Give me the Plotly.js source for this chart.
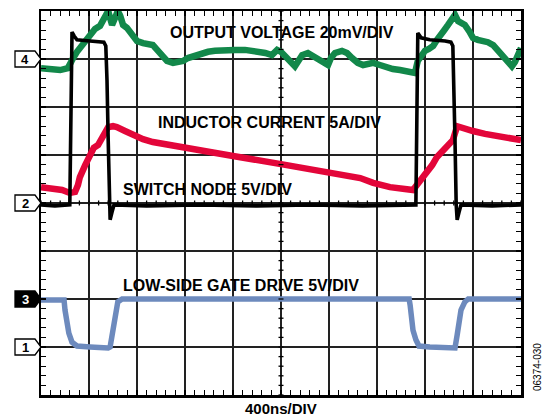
<!DOCTYPE html>
<html>
<head>
<meta charset="utf-8">
<script src="https://cdn.plot.ly/plotly-3.0.1.min.js"></script>
<style>html,body{margin:0;padding:0;background:#fff;}#chart{width:545px;height:419px;}</style>
</head>
<body>
<div id="chart"></div>
<script>
// Time axis in divisions (400 ns/DIV), vertical in screen divisions (0 = bottom, 8 = top)
const outTime = [0,0.19,0.40,0.56,0.625,0.67,0.75,0.81,0.90,0.96,1.02,1.125,1.23,1.29,1.33,1.40,1.44,1.48,1.54,1.60,1.65,1.71,1.79,1.85,1.94,2.0,2.125,2.23,2.33,2.42,2.48,2.56,2.625,2.75,2.85,2.96,3.06,3.17,3.31,3.48,3.625,3.83,4.04,4.25,4.46,4.67,4.81,4.92,5.0,5.08,5.19,5.29,5.375,5.44,5.56,5.67,5.77,5.875,5.98,6.04,6.125,6.27,6.375,6.48,6.60,6.71,6.81,6.92,7.06,7.21,7.33,7.48,7.65,7.79,7.85,7.92,8.0,8.08,8.17,8.25,8.31,8.40,8.48,8.56,8.625,8.69,8.75,8.83,8.92,9.0,9.10,9.21,9.31,9.42,9.52,9.625,9.73,9.81,9.875,9.96,10];
const outVolt = [6.81,6.79,6.77,6.81,6.90,7.02,7.15,7.23,7.35,7.44,7.54,7.625,7.69,7.81,7.92,8.0,7.85,7.71,7.85,8.0,7.9,7.71,7.65,7.58,7.46,7.375,7.33,7.31,7.29,7.19,7.125,7.02,6.96,6.92,6.94,6.96,7.02,7.06,7.10,7.15,7.17,7.19,7.19,7.19,7.17,7.125,7.08,7.19,7.15,7.06,6.98,6.85,6.98,7.08,7.125,7.06,6.98,6.92,6.875,7.02,7.125,7.17,7.125,7.02,6.92,6.875,6.90,6.92,6.875,6.81,6.79,6.77,6.75,6.71,6.96,7.06,7.17,7.21,7.27,7.40,7.50,7.60,7.71,7.85,7.92,7.79,7.77,7.71,7.58,7.44,7.40,7.375,7.35,7.29,7.17,7.02,6.92,6.85,6.94,7.17,7.23];

const indTime = [0,0.25,0.44,0.60,0.71,0.77,0.81,0.92,1.02,1.10,1.19,1.29,1.40,1.50,1.58,1.75,1.92,2.125,2.33,2.54,2.75,3.0,3.25,4.0,5.0,6.0,6.23,6.65,6.92,7.27,7.58,7.75,7.83,7.94,8.04,8.15,8.25,8.35,8.46,8.58,8.67,8.77,9.0,9.25,9.56,9.83,10];
const indCurr = [4.33,4.31,4.27,4.21,4.23,4.375,4.54,4.79,5.04,5.15,5.21,5.40,5.58,5.60,5.58,5.50,5.42,5.33,5.27,5.23,5.21,5.15,5.10,4.98,4.81,4.625,4.58,4.52,4.42,4.33,4.29,4.27,4.375,4.52,4.625,4.79,4.96,5.08,5.17,5.31,5.60,5.58,5.50,5.44,5.375,5.33,5.31];

const swTime = [0,0.29,0.60,0.625,0.646,0.69,0.75,1.02,1.31,1.35,1.375,1.40,1.42,1.44,1.48,1.52,2.2,3.31,4.5,5.6,6.7,7.81,7.83,7.85,7.92,8.10,8.42,8.54,8.58,8.60,8.625,8.65,8.67,8.71,8.75,9.4,10];
const swVolt = [3.96,3.94,3.96,5.73,7.56,7.48,7.40,7.375,7.35,7.27,6.56,5.31,4.06,3.65,3.81,3.96,3.94,3.96,3.94,3.96,3.94,3.96,5.73,7.54,7.44,7.40,7.375,7.35,7.27,6.56,5.31,3.96,3.65,3.81,3.96,3.94,3.96];

const gateTime = [0,0.48,0.50,0.54,0.58,0.646,0.75,1.02,1.23,1.40,1.44,1.48,1.52,1.56,1.60,1.69,3.31,7.67,7.69,7.71,7.75,7.81,7.875,8.10,8.625,8.67,8.71,8.75,8.83,8.90,10];
const gateVolt = [1.98,1.98,1.77,1.52,1.29,1.10,1.02,1.0,0.98,0.98,1.0,1.25,1.56,1.81,1.94,2.0,2.0,2.0,1.875,1.60,1.35,1.15,1.02,1.0,0.98,1.25,1.52,1.77,1.94,2.0,2.0];

const channelNames = ['4','2','3','1'];
const channelLevels = [7,4,2,1];

const traceLabels = ['OUTPUT VOLTAGE 20mV/DIV','INDUCTOR CURRENT 5A/DIV','SWITCH NODE 5V/DIV','LOW-SIDE GATE DRIVE 5V/DIV'];
const timebaseLabel = '400ns/DIV';
const figureId = '06374-030';

// geometry helpers (pixel -> paper)
const L = 41, T = 11, W = 480, H = 384;
const px = x => (x - L) / W;
const py = y => ((T + H) - y) / H;

const traces = [
  {x: gateTime, y: gateVolt, mode:'lines', line:{color:'#6d8abd', width:5.5}, hoverinfo:'skip'},
  {x: outTime, y: outVolt, mode:'lines', line:{color:'#12884a', width:6.5}, hoverinfo:'skip'},
  {x: indTime, y: indCurr, mode:'lines', line:{color:'#e3063a', width:6.5}, hoverinfo:'skip'},
  {x: swTime, y: swVolt, mode:'lines', line:{color:'#000000', width:3.6}, hoverinfo:'skip'}
];

const shapes = [];
// center-line minor ticks
for (let i = 0; i <= 50; i++) {
  shapes.push({type:'line', xref:'x', yref:'y', x0:i*0.2, x1:i*0.2, ysizemode:'pixel', yanchor:4, y0:-2.5, y1:2.5, line:{color:'#000', width:1.3}, layer:'above'});
}
for (let i = 0; i <= 40; i++) {
  shapes.push({type:'line', xref:'x', yref:'y', y0:i*0.2, y1:i*0.2, xsizemode:'pixel', xanchor:5, x0:-2.5, x1:2.5, line:{color:'#000', width:1.3}, layer:'above'});
}
// channel markers
const annotations = [];
channelNames.forEach((n, i) => {
  const yc = T + H - channelLevels[i] * 48;
  const p = `M ${px(15)},${py(yc-8)} L ${px(35)},${py(yc-8)} L ${px(41)},${py(yc)} L ${px(35)},${py(yc+8)} L ${px(15)},${py(yc+8)} Z`;
  const filled = n === '3';
  shapes.push({type:'path', xref:'paper', yref:'paper', path:p, fillcolor: filled ? '#000' : '#fff', line:{color:'#000', width:1.3}, layer:'above'});
  annotations.push({xref:'paper', yref:'paper', x:px(25), y:py(yc), text:'<b>'+n+'</b>', showarrow:false, xanchor:'center', yanchor:'middle', font:{family:'Liberation Sans, Arial, sans-serif', size:13, color: filled ? '#fff' : '#000'}});
});

const labelPos = [[168,32],[156,123],[121,189],[121,285]];
traceLabels.forEach((t, i) => {
  annotations.push({xref:'paper', yref:'paper', x:px(labelPos[i][0]), y:py(labelPos[i][1]), text:'<b>'+t+'</b>', showarrow:false, xanchor:'left', yanchor:'middle', font:{family:'Liberation Sans, Arial, sans-serif', size:16, color:'#000'}});
});
annotations.push({xref:'paper', yref:'paper', x:px(281), y:py(408), text:'<b>'+timebaseLabel+'</b>', showarrow:false, xanchor:'center', yanchor:'middle', font:{family:'Liberation Sans, Arial, sans-serif', size:15, color:'#000'}});
annotations.push({xref:'paper', yref:'paper', x:px(537), y:py(367), text:figureId, textangle:-90, showarrow:false, xanchor:'center', yanchor:'middle', font:{family:'Liberation Sans, Arial, sans-serif', size:10, color:'#000'}});

const axisCommon = {
  showgrid:true, gridcolor:'#222', gridwidth:1.5, zeroline:false,
  showline:true, linecolor:'#000', linewidth:2.5, mirror:'allticks',
  ticks:'inside', ticklen:5, tickcolor:'#000', tickwidth:1.3, showticklabels:false,
  minor:{ticks:'inside', ticklen:5, tickcolor:'#000', tickwidth:1.3, showgrid:false}
};

const layout = {
  width:545, height:419,
  margin:{l:41, r:24, t:11, b:24},
  paper_bgcolor:'#fff', plot_bgcolor:'#fff',
  showlegend:false,
  xaxis: Object.assign({}, axisCommon, {range:[0,10], tick0:0, dtick:1, minor:Object.assign({}, axisCommon.minor, {dtick:0.2})}),
  yaxis: Object.assign({}, axisCommon, {range:[0,8], tick0:0, dtick:1, minor:Object.assign({}, axisCommon.minor, {dtick:0.2})}),
  shapes: shapes,
  annotations: annotations
};

Plotly.newPlot('chart', traces, layout, {displayModeBar:false, staticPlot:true});
</script>
</body>
</html>
